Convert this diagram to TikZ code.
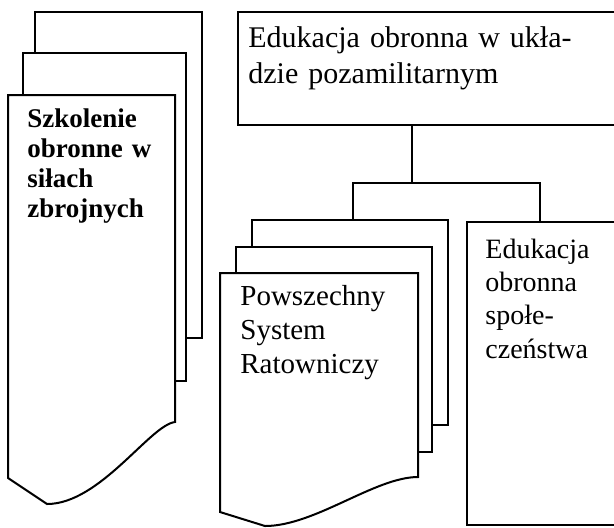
\documentclass[tikz,border=0pt]{standalone}
\usepackage{fontspec}
\setmainfont{Liberation Serif}
\usetikzlibrary{fit}
\tikzset{
  sheet/.style={draw, fill=white, line width=1pt, inner sep=0pt},
  wire/.style={draw, line width=1pt},
  caption/.style={anchor=base west, inner sep=0pt, text width=220pt, align=left, font=\fontsize{14.5}{17}\selectfont},
  boldcaption/.style={caption, font=\fontsize{13.5}{15}\selectfont\bfseries}
}
\begin{document}
\begin{tikzpicture}[x=0.5pt,y=-0.5pt]
  % Frame
  \useasboundingbox (0,0) rectangle (614,527);
  \clip (0,0) rectangle (614,527);
  % Left stack of sheets
  \node[sheet, fit={(35,12) (202,338)}] (milback) {};
  \node[sheet, fit={(23,53) (186,381)}] (milmid) {};
  \path[sheet] (8,95) -- (175,95) -- (175,422) .. controls (150,425) and (100,504) .. (47,504) -- (8,478) -- cycle;
  \node[boldcaption] (miltext) at (27,127) {Szkolenie\\obronne w\\siłach\\zbrojnych};
  % Top box
  \node[sheet, fit={(238,12) (620,125)}] (edu) {};
  \node[caption, font=\fontsize{15}{18}\selectfont] (edutext) at (248,47) {Edukacja obronna w ukła-\\dzie pozamilitarnym};
  % Middle stack of sheets
  \node[sheet, fit={(252,220) (448,425)}] (rsrback) {};
  \node[sheet, fit={(236,247) (432,452)}] (rsrmid) {};
  \path[sheet] (220,273) -- (418,273) -- (418,477) .. controls (375,477) and (315,526) .. (265,526) -- (220,512) -- cycle;
  \node[caption] (rsrtext) at (240,305) {Powszechny\\System\\Ratowniczy};
  % Right box
  \node[sheet, fit={(467,222) (620,525)}] (spo) {};
  \node[caption, font=\fontsize{14}{16.7}\selectfont] (spotext) at (485,258) {Edukacja\\obronna\\społe-\\czeństwa};
  % Fork
  \coordinate (fork) at (412,183);
  \coordinate (forkL) at (353,183);
  \coordinate (forkR) at (540,183);
  \draw[wire] (edu.south -| fork) -- (fork);
  \draw[wire] (forkL |- rsrback.north) -- (forkL) -- (forkR) -- (forkR |- spo.north);
\end{tikzpicture}
\end{document}
